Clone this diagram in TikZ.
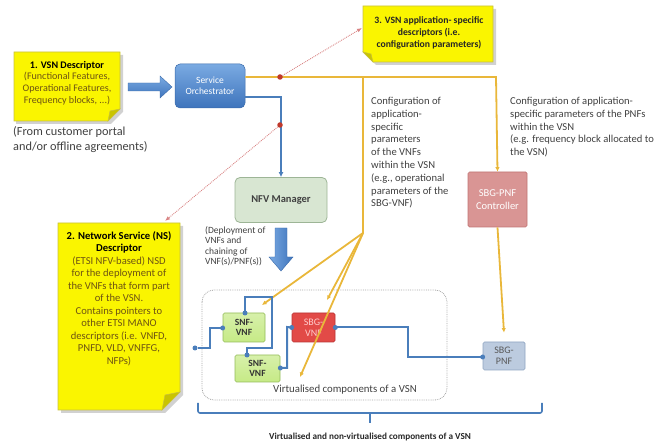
\documentclass[tikz,border=0pt]{standalone}
\usepackage{fontspec}
\setmainfont{Carlito}
\usetikzlibrary{arrows.meta,calc,shadows}

\definecolor{noteyellow}{HTML}{FAF500}
\definecolor{noteedge}{HTML}{C8C040}
\definecolor{notefold}{HTML}{C9C400}
\definecolor{notetext}{HTML}{6E5413}
\definecolor{orchtop}{HTML}{7AAAE2}
\definecolor{orchbot}{HTML}{3E74BC}
\definecolor{orchedge}{HTML}{3A6AAA}
\definecolor{nfvfill}{HTML}{D8E6D2}
\definecolor{nfvedge}{HTML}{9DB596}
\definecolor{snffill}{HTML}{C6EA86}
\definecolor{snfedge}{HTML}{93BB5A}
\definecolor{sbgfill}{HTML}{E24A47}
\definecolor{sbgedge}{HTML}{B83434}
\definecolor{ctrlfill}{HTML}{D99594}
\definecolor{ctrledge}{HTML}{C07574}
\definecolor{pnffill}{HTML}{BCCBDF}
\definecolor{pnfedge}{HTML}{8FA5C2}
\definecolor{cfgline}{HTML}{E9B73A}
\definecolor{netline}{HTML}{4A7EBB}
\definecolor{refdot}{HTML}{C0392B}
\definecolor{refline}{HTML}{D98585}
\definecolor{bodytext}{HTML}{404040}

\tikzset{
  notebody/.style={fill=noteyellow, draw=noteedge, line width=0.6pt},
  noteshadow/.style={fill=black, opacity=0.18},
  notefoldpart/.style={fill=notefold, draw=noteedge, line width=0.5pt},
  blockbox/.style={rounded corners=5pt, align=center, inner sep=0pt},
  compbox/.style={draw, line width=0.7pt, rounded corners=1.5pt, align=center, inner sep=0pt,
    font=\fontsize{9.5}{10.5}\selectfont\bfseries},
  cfg/.style={draw=cfgline, line width=1.8pt},
  cfgtip/.style={cfg, -{Latex[length=4.5pt,width=4.5pt]}},
  net/.style={draw=netline, line width=2pt},
  netdot/.style={circle, fill=netline, inner sep=0pt, minimum size=5pt},
  reddot/.style={circle, fill=refdot, inner sep=0pt, minimum size=5.5pt},
  refarrow/.style={draw=refline, line width=0.9pt, densely dotted, -{Latex[length=5pt,width=4pt]}},
  plain/.style={align=left, inner sep=0pt, text=bodytext}
}

\begin{document}
\begin{tikzpicture}[x=1pt,y=-1pt]
\useasboundingbox (0,0) rectangle (670,446);

% ---------- note 1: VSN descriptor ----------
\fill[noteshadow] (16,55) -- (123,55) -- (123,112) -- (111,124) -- (16,124) -- cycle;
\filldraw[notebody] (14,52) -- (120,52) -- (120,109) -- (108,121) -- (14,121) -- cycle;
\filldraw[notefoldpart] (120,109) -- (108,121) -- (110,111) -- cycle;
\node[align=center, inner sep=0pt, font=\fontsize{10.1}{11.7}\selectfont, text=notetext] (n1) at (67,83)
  {\textcolor{black}{\textbf{1. VSN Descriptor}}\\(Functional Features,\\Operational Features,\\Frequency blocks, ...)};
\node[plain, anchor=north west, font=\fontsize{12.3}{15}\selectfont, text=black!75] (src) at (13,126)
  {(From customer portal\\and/or offline agreements)};

% ---------- note 2: network service descriptor ----------
\fill[noteshadow] (61,226) -- (183,226) -- (183,395) -- (165,413) -- (61,413) -- cycle;
\filldraw[notebody] (58,223) -- (180,223) -- (180,392) -- (162,410) -- (58,410) -- cycle;
\filldraw[notefoldpart] (180,392) -- (162,410) -- (165,395) -- cycle;
\node[align=center, inner sep=0pt, anchor=north, font=\fontsize{10.6}{12.5}\selectfont, text=notetext] (n2) at (119,231)
  {\textcolor{black}{\textbf{2. Network Service (NS)}}\\\textcolor{black}{\textbf{Descriptor}}\\
   (ETSI NFV-based) NSD\\for the deployment of\\the VNFs that form part\\of the VSN.\\Contains pointers to\\
   other ETSI MANO\\descriptors (i.e. VNFD,\\PNFD, VLD, VNFFG,\\NFPs)};

% ---------- note 3: application-specific descriptors ----------
\fill[noteshadow] (366,9) -- (496,9) -- (496,65) -- (376,65) -- (366,55) -- cycle;
\filldraw[notebody] (363,6) -- (493,6) -- (493,62) -- (373,62) -- (363,52) -- cycle;
\filldraw[notefoldpart] (363,52) -- (373,62) -- (371,54) -- cycle;
\node[align=center, inner sep=0pt, font=\fontsize{9.7}{11.7}\selectfont\bfseries, text=black!85] (n3) at (429,33)
  {3. VSN application- specific\\descriptors (i.e.\\configuration parameters)};

% ---------- management blocks ----------
\node[blockbox, minimum width=70pt, minimum height=44pt, top color=orchtop, bottom color=orchbot,
      draw=orchedge, line width=0.5pt, text=white, font=\fontsize{9.5}{11.5}\selectfont] (so) at (210,86)
  {Service\\Orchestrator};
\node[blockbox, minimum width=92pt, minimum height=45pt, fill=nfvfill, draw=nfvedge, line width=0.8pt,
      text=black!75, font=\fontsize{10.5}{12}\selectfont\bfseries] (nfvm) at (281,200) {NFV Manager};
\node[compbox, minimum width=59pt, minimum height=55pt, fill=ctrlfill, draw=ctrledge, text=white,
      font=\fontsize{10.5}{13}\selectfont] (ctrl) at (497.5,199.5) {SBG-PNF\\Controller};

% ---------- block arrows ----------
\path[top color=orchtop, bottom color=orchbot, draw=orchedge, line width=0.4pt]
  (128,83) -- (160,83) -- (160,76) -- (172,87) -- (160,98) -- (160,91) -- (128,91) -- cycle;
\node[inner sep=0pt] (fromnote) at (128,87) {};
\path[left color=orchtop, right color=orchbot, draw=orchedge, line width=0.4pt]
  (275,228) -- (287,228) -- (287,257) -- (293,257) -- (281,271) -- (269,257) -- (275,257) -- cycle;
\node[plain, anchor=north west, font=\fontsize{9.5}{10.6}\selectfont] (deploy) at (205,226)
  {(Deployment of\\VNFs and\\chaining of\\VNF(s)/PNF(s))};

% ---------- virtualised region ----------
\draw[gray!70, line width=0.8pt, densely dotted, rounded corners=12pt] (202,290) rectangle (447,400);
\node[inner sep=0pt, font=\fontsize{10.8}{12}\selectfont, text=bodytext] (vlabel) at (345,390)
  {Virtualised components of a VSN};

\node[compbox, minimum width=42pt, minimum height=29pt, top color=snffill!70!white, bottom color=snffill,
      draw=snfedge, text=black!80] (snf1) at (244,327.5) {SNF-\\VNF};
\node[compbox, minimum width=45pt, minimum height=27pt, top color=snffill!70!white, bottom color=snffill,
      draw=snfedge, text=black!80] (snf2) at (257.5,368.5) {SNF-\\VNF};
\node[compbox, minimum width=43pt, minimum height=29pt, fill=sbgfill, draw=sbgedge, text=red!20!white,
      font=\fontsize{10}{11}\selectfont] (sbgv) at (313.5,327.5) {SBG-\\VNF};
\node[compbox, minimum width=42pt, minimum height=28pt, fill=pnffill, draw=pnfedge, text=black!65,
      font=\fontsize{10}{11}\selectfont] (pnf) at (504,356)
  {SBG-\\PNF};

% ---------- configuration paths ----------
\coordinate (cfgsplit) at (363,77);
\coordinate (cfgfan) at (363,233);
\coordinate (tipA) at (262,305);
\coordinate (tipB) at (327,300);
\coordinate (tipC) at (300,377);
\draw[cfgtip] ($(so.east)+(0,-9)$) -- (496,77) -- (ctrl.north);
\draw[cfg] (cfgsplit) -- (cfgfan);
\draw[cfgtip] (cfgfan) -- (tipA);
\draw[cfgtip] (cfgfan) -- (tipB);
\draw[cfgtip] (cfgfan) -- (tipC);
\draw[cfgtip] (ctrl.south) -- ([yshift=9pt]pnf.north);

% ---------- orchestration to NFV manager ----------
\draw[net, -{Latex[length=5pt,width=5pt]}] ($(so.east)+(0,11)$) -| (nfvm.north);

% ---------- references to the descriptors ----------
\node[reddot] (r1) at (280,77) {};
\node[reddot] (r2) at (280,125) {};
\draw[refarrow] (r1) -- (362,28);
\draw[refarrow] (r2) -- (165,221);

\node[plain, anchor=north west, font=\fontsize{10.6}{12.8}\selectfont] (cfgvnf) at (371,97)
  {Configuration of\\application-\\specific\\parameters\\of the VNFs\\within the VSN\\(e.g., operational\\parameters of the\\SBG-VNF)};
\node[plain, anchor=north west, font=\fontsize{10.6}{12.8}\selectfont] (cfgpnf) at (510,97)
  {Configuration of application-\\specific parameters of the PNFs\\within the VSN\\(e.g. frequency block allocated to\\the VSN)};

% ---------- service chain ----------
\node[netdot] (ingress) at (195,348) {};
\draw[net] (ingress) -- (210,348) -- (210,328) -- (snf1.west |- 0,328);
\node[netdot] at (snf1.west |- 0,328) {};
\draw[net] (245,313) -- (245,297) -- (272,297) -- (272,348) -- (247,348) -- (247,355);
\node[netdot] at (245,313) {};
\node[netdot] at (247,355) {};
\draw[net] (snf2.east |- 0,368) -- (287,368) -- (287,327) -- (sbgv.west);
\node[netdot] at (snf2.east |- 0,368) {};
\node[netdot] at (sbgv.west) {};
\draw[net] (sbgv.east) -- (408,327.5) -- (408,357) -- (pnf.west |- 0,357);
\node[netdot] at (sbgv.east) {};
\node[netdot] at (pnf.west |- 0,357) {};

% ---------- overall grouping brace ----------
\draw[netline, line width=1.6pt, rounded corners=2pt] (198,403) -- (198,413) -- (542,413) -- (542,403);
\draw[netline, line width=1.6pt] (370,413) -- (370,423);
\node[inner sep=0pt, font=\fontsize{9.2}{10}\selectfont\bfseries, text=black!85] (glabel) at (370,437)
  {Virtualised and non-virtualised components of a VSN};
\end{tikzpicture}
\end{document}
